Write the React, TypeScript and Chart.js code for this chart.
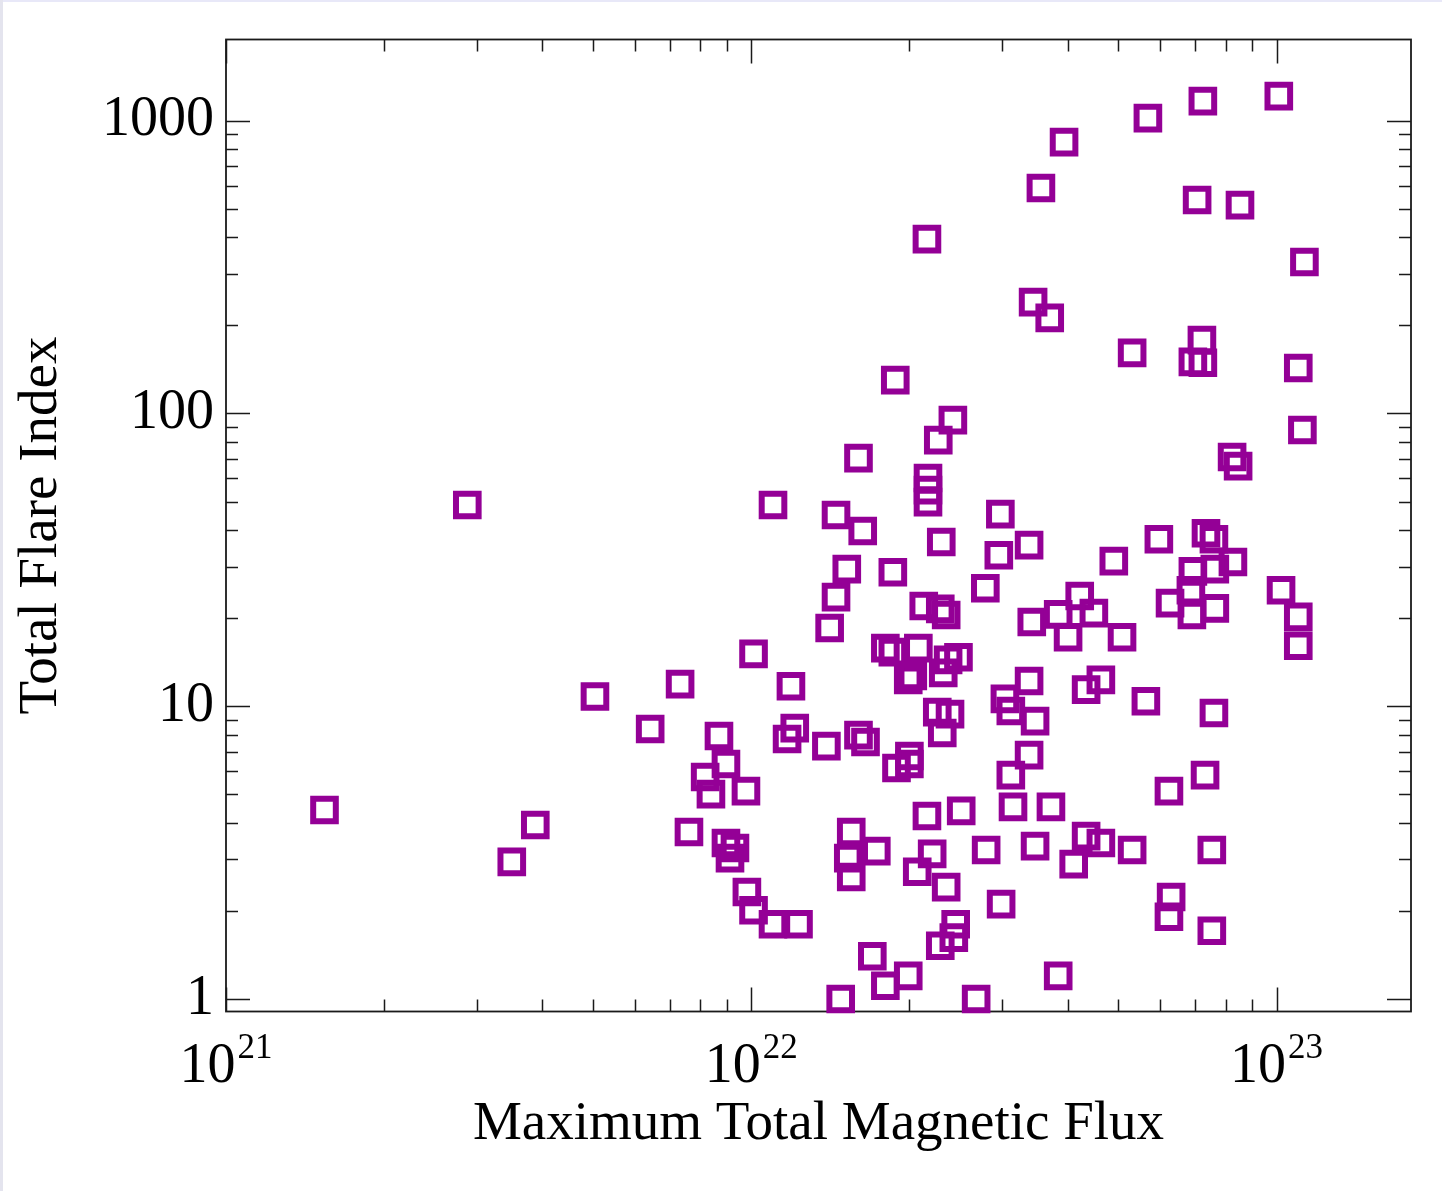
import React, { useEffect, useRef } from 'react';
import { Chart, registerables } from 'chart.js';

Chart.register(...registerables);

// Maximum total magnetic flux of each active region (Mx)
const FLUX = [
  1.54e21, 3.50e21, 3.88e21, 2.88e21, 5.04e21, 6.42e21, 7.32e21, 7.61e21, 8.17e21, 8.38e21,
  8.68e21, 8.95e21, 8.95e21, 9.11e21, 9.31e21, 9.77e21, 9.81e21, 1.01e22, 1.01e22, 1.10e22,
  1.10e22, 1.23e22, 1.19e22, 1.17e22, 1.21e22, 1.39e22, 1.41e22, 1.45e22, 1.52e22, 1.45e22,
  1.63e22, 1.60e22, 1.48e22, 1.55e22, 1.53e22, 1.55e22, 1.60e22, 1.65e22, 1.70e22, 1.73e22,
  1.80e22, 1.80e22, 1.86e22, 1.86e22, 1.89e22, 1.88e22, 1.99e22, 2.00e22, 2.00e22, 1.99e22,
  2.07e22, 2.08e22, 2.16e22, 2.21e22, 2.13e22, 2.17e22, 2.17e22, 2.17e22, 2.16e22, 2.27e22,
  2.29e22, 2.30e22, 2.35e22, 2.29e22, 2.35e22, 2.42e22, 2.26e22, 2.31e22, 2.39e22, 2.37e22,
  2.32e22, 2.48e22, 2.43e22, 2.45e22, 2.51e22, 2.68e22, 2.79e22, 2.80e22, 2.96e22, 2.98e22,
  2.99e22, 3.04e22, 3.12e22, 3.15e22, 3.12e22, 3.38e22, 3.38e22, 3.38e22, 3.42e22, 3.47e22,
  3.44e22, 3.56e22, 3.70e22, 3.72e22, 3.84e22, 3.84e22, 3.94e22, 4.01e22, 4.11e22, 4.22e22,
  4.34e22, 4.49e22, 4.34e22, 4.63e22, 4.63e22, 4.90e22, 5.08e22, 5.31e22, 5.31e22, 5.64e22,
  5.69e22, 5.97e22, 6.24e22, 6.27e22, 6.24e22, 6.30e22, 6.90e22, 6.87e22, 6.93e22, 6.93e22,
  7.06e22, 7.21e22, 7.24e22, 7.24e22, 7.34e22, 7.31e22, 7.53e22, 7.53e22, 7.60e22, 7.63e22,
  7.63e22, 7.60e22, 8.26e22, 8.23e22, 8.45e22, 8.52e22, 1.01e23, 1.02e23, 1.10e23, 1.10e23,
  1.10e23, 1.13e23, 1.12e23, 3.47e22, 2.03e22,
];

// Total flare index of the same regions
const FLARE_INDEX = [
  4.42, 2.94, 3.93, 48.7, 10.8, 8.36, 11.9, 3.72, 5.73, 5.01,
  7.91, 6.35, 3.41, 3.03, 3.28, 5.13, 2.32, 2.01, 15.1, 48.7,
  1.80, 1.80, 11.7, 7.73, 8.42, 7.31, 18.5, 23.6, 29.4, 45.0,
  39.7, 70.4, 1.0, 3.72, 3.03, 2.61, 7.97, 7.55, 1.40, 3.20,
  1.11, 15.8, 28.7, 15.3, 6.15, 130, 1.20, 6.76, 6.35, 12.3,
  2.72, 15.8, 4.22, 3.13, 22.0, 60.2, 54.7, 49.8, 394, 81.1,
  21.5, 36.4, 20.5, 1.52, 2.41, 94.9, 9.55, 8.10, 9.40, 14.4,
  13.0, 14.7, 1.62, 1.80, 4.39, 1.0, 25.3, 3.23, 32.8, 45.3,
  2.11, 10.6, 5.82, 4.53, 9.63, 12.2, 6.81, 35.5, 19.4, 8.90,
  240, 589, 212, 4.53, 1.20, 20.6, 845, 17.2, 2.89, 23.8,
  11.4, 20.8, 3.60, 3.41, 12.3, 31.3, 17.2, 3.23, 161, 10.4,
  1021, 37.2, 5.13, 22.5, 1.91, 2.23, 20.5, 24.9, 28.9, 150,
  536, 178, 149, 1167, 39.0, 5.82, 1.71, 3.23, 37.2, 29.4,
  21.6, 9.48, 31.1, 71.0, 66.1, 515, 1213, 24.9, 20.2, 16.1,
  143, 329, 87.8, 3.33, 12.7,
];

// Axis ranges and labelled ticks
const X_RANGE = [1e21, 1.803e23];
const Y_RANGE = [0.9065, 1894];
const X_DECADES = [21, 22, 23];
const Y_TICKS = [1, 10, 100, 1000];
const MINOR_STEPS = [1, 2, 3, 4, 5, 6, 7, 8, 9];
const X_TITLE = 'Maximum Total Magnetic Flux';
const Y_TITLE = 'Total Flare Index';

const SERIF = '"Liberation Serif", "Times New Roman", Times, serif';
const MARKER = 'rgb(148, 0, 150)';
const INK = '#1a1a1a';

const WIDTH = 1442;
const HEIGHT = 1191;
const PLOT_LEFT = 226;
const PLOT_TOP = 39.5;
const PLOT_RIGHT_GAP = 31;
const PLOT_BOTTOM_GAP = 179.5;

// Frame with inward tick marks on all four sides, plus the power-of-ten x labels
const framePlugin = {
  id: 'framePlugin',
  beforeDatasetsDraw(chart: any) {
    const { ctx, chartArea: a, scales } = chart;
    const xs = scales.x;
    const ys = scales.y;
    ctx.save();
    ctx.strokeStyle = INK;
    ctx.lineWidth = 1.5;
    ctx.beginPath();
    for (let e = 20; e <= 23; e++) {
      for (const m of MINOR_STEPS) {
        const v = m * Math.pow(10, e);
        if (v < xs.min * 0.999 || v > xs.max) continue;
        const px = Math.round(xs.getPixelForValue(v)) + 0.5;
        const len = m === 1 ? 24 : 12;
        ctx.moveTo(px, a.bottom);
        ctx.lineTo(px, a.bottom - len);
        ctx.moveTo(px, a.top);
        ctx.lineTo(px, a.top + len);
      }
    }
    for (let e = -1; e <= 3; e++) {
      for (const m of MINOR_STEPS) {
        const v = m * Math.pow(10, e);
        if (v < ys.min || v > ys.max) continue;
        const py = Math.round(ys.getPixelForValue(v)) + 0.5;
        const len = m === 1 ? 24 : 12;
        ctx.moveTo(a.left, py);
        ctx.lineTo(a.left + len, py);
        ctx.moveTo(a.right, py);
        ctx.lineTo(a.right - len, py);
      }
    }
    ctx.stroke();
    ctx.lineWidth = 1.8;
    ctx.strokeRect(a.left, a.top, a.right - a.left, a.bottom - a.top);

    // x tick labels: 10 with a raised exponent
    ctx.fillStyle = '#000';
    ctx.textBaseline = 'alphabetic';
    ctx.textAlign = 'left';
    for (const e of X_DECADES) {
      const px = xs.getPixelForValue(Math.pow(10, e));
      const base = '10';
      const sup = String(e);
      ctx.font = `56px ${SERIF}`;
      const wBase = ctx.measureText(base).width;
      ctx.font = `35px ${SERIF}`;
      const wSup = ctx.measureText(sup).width;
      const gap = 2;
      const start = px - (wBase + gap + wSup) / 2;
      ctx.font = `56px ${SERIF}`;
      ctx.fillText(base, start, a.bottom + 70.5);
      ctx.font = `35px ${SERIF}`;
      ctx.fillText(sup, start + wBase + gap, a.bottom + 46.5);
    }
    ctx.restore();
  },
};

export default function App() {
  const canvasRef = useRef<HTMLCanvasElement | null>(null);

  useEffect(() => {
    const canvas = canvasRef.current;
    if (!canvas) return;
    const points = FLUX.map((x, i) => ({ x, y: FLARE_INDEX[i] }));

    const chart = new Chart(canvas, {
      type: 'scatter',
      data: {
        datasets: [
          {
            data: points,
            pointStyle: 'rect',
            pointRadius: 16,
            pointBorderWidth: 6,
            pointBorderColor: MARKER,
            pointBackgroundColor: 'rgba(0,0,0,0)',
            borderColor: MARKER,
            backgroundColor: 'rgba(0,0,0,0)',
            showLine: false,
            clip: false as any,
          },
        ],
      },
      plugins: [framePlugin],
      options: {
        animation: false,
        responsive: false,
        events: [],
        layout: {
          padding: { top: PLOT_TOP, right: PLOT_RIGHT_GAP, left: 0, bottom: 0 },
        },
        plugins: {
          legend: { display: false },
          tooltip: { enabled: false },
        },
        scales: {
          x: {
            type: 'logarithmic',
            position: 'bottom',
            min: X_RANGE[0],
            max: X_RANGE[1],
            grid: { display: false, drawTicks: false },
            border: { display: false },
            ticks: { display: false },
            afterBuildTicks: (scale: any) => {
              scale.ticks = X_DECADES.map((e) => ({ value: Math.pow(10, e) }));
            },
            afterFit: (scale: any) => {
              scale.height = PLOT_BOTTOM_GAP;
              scale.paddingLeft = 0;
              scale.paddingRight = 0;
            },
            title: {
              display: true,
              text: X_TITLE,
              color: '#000',
              font: { family: SERIF, size: 55 },
              padding: { top: 0, bottom: 33.5 },
            },
          },
          y: {
            type: 'logarithmic',
            position: 'left',
            min: Y_RANGE[0],
            max: Y_RANGE[1],
            grid: { display: false, drawTicks: false },
            border: { display: false },
            ticks: {
              color: '#000',
              font: { family: SERIF, size: 56 },
              padding: 12,
              autoSkip: false,
              callback: (value: any) => String(value),
            },
            afterBuildTicks: (scale: any) => {
              scale.ticks = Y_TICKS.map((v) => ({ value: v }));
            },
            afterFit: (scale: any) => {
              scale.width = PLOT_LEFT;
              scale.paddingTop = 0;
              scale.paddingBottom = 0;
            },
            title: {
              display: true,
              text: Y_TITLE,
              color: '#000',
              font: { family: SERIF, size: 55 },
              padding: { top: 9, bottom: 0 },
            },
          },
        },
      } as any,
    });

    return () => chart.destroy();
  }, []);

  return (
    <div
      style={{
        position: 'absolute',
        left: 0,
        top: 0,
        width: WIDTH,
        height: HEIGHT,
        background: '#fff',
        overflow: 'hidden',
      }}
    >
      <canvas
        ref={canvasRef}
        width={WIDTH}
        height={HEIGHT}
        style={{ display: 'block', width: WIDTH, height: HEIGHT }}
      />
      <div style={{ position: 'absolute', left: 0, top: 0, width: WIDTH, height: 2, background: '#e8e8f8' }} />
      <div style={{ position: 'absolute', left: 0, top: 0, width: 3, height: HEIGHT, background: '#e4e4ee' }} />
    </div>
  );
}
